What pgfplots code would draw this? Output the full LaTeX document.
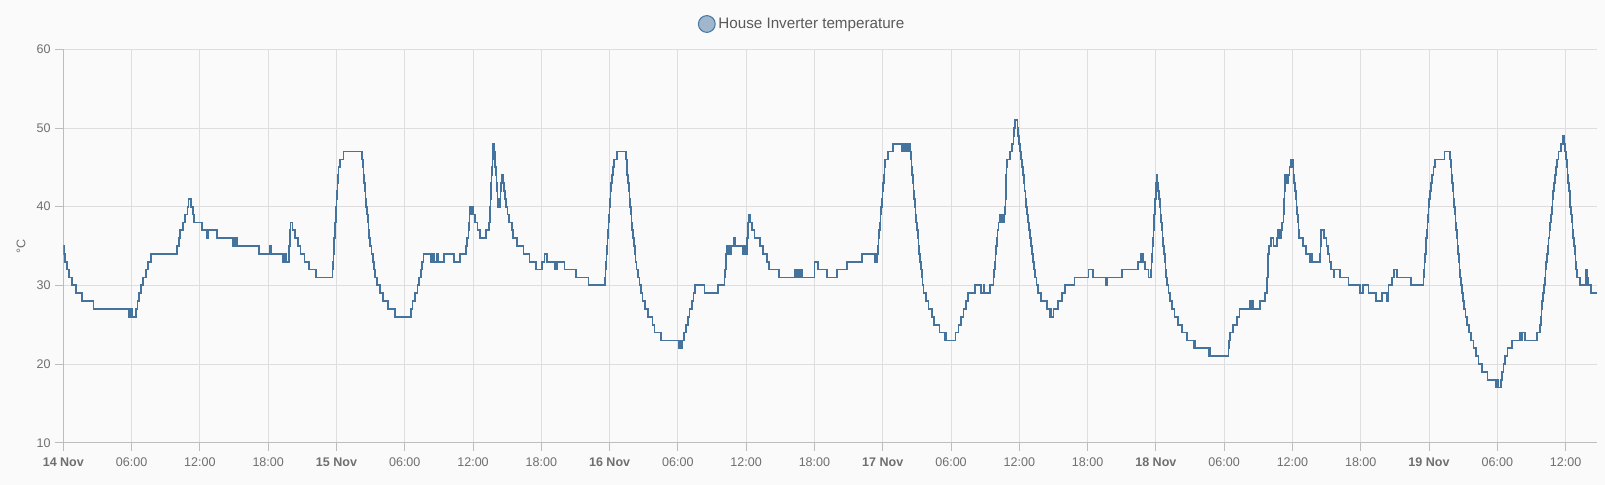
\documentclass[border=0pt]{standalone}
\usepackage{fontspec}
\setmainfont{Liberation Sans}
\usepackage{pgfplots}
\pgfplotsset{compat=1.18}

\definecolor{bgcol}{HTML}{FAFAFA}
\definecolor{gridcol}{HTML}{DEDEDE}
\definecolor{axiscol}{HTML}{BDBDBD}
\definecolor{tickcol}{HTML}{6F6F6F}
\definecolor{legcol}{HTML}{5A5A5A}
\definecolor{linecol}{HTML}{44739E}
\definecolor{legfill}{HTML}{9FB6CC}

\begin{document}
\begin{tikzpicture}
% page = 1605 x 485 px at 0.75pt per px
\fill[bgcol] (-47.5pt,-31.7pt) rectangle (1156.2pt,332pt);
\begin{axis}[
    at={(0,0)}, anchor=south west,
    scale only axis, width=1150pt, height=295pt,
    xmin=0, xmax=134.74, ymin=10, ymax=60,
    axis x line=bottom, axis y line=left,
    axis line style={-, draw=axiscol, line width=0.75pt},
    xtick={0,6,...,132},
    xticklabels={\textbf{14 Nov},06:00,12:00,18:00,\textbf{15 Nov},06:00,12:00,18:00,
                 \textbf{16 Nov},06:00,12:00,18:00,\textbf{17 Nov},06:00,12:00,18:00,
                 \textbf{18 Nov},06:00,12:00,18:00,\textbf{19 Nov},06:00,12:00},
    ytick={10,20,...,60},
    grid=major,
    major grid style={draw=gridcol, line width=0.75pt},
    tick style={draw=axiscol, line width=0.75pt},
    major tick length=6pt, tick align=outside,
    ticklabel style={font=\fontsize{9.4}{11}\selectfont, text=tickcol},
    xticklabel style={yshift=-1.5pt},
    /pgf/number format/assume math mode=true,
    ylabel={°C},
    ylabel style={at={(axis description cs:0,0.5)}, anchor=center, yshift=31.7pt,
                  font=\fontsize{9.4}{11}\selectfont, text=tickcol},
    legend style={at={(axis description cs:0.482,1)}, anchor=center, yshift=19pt,
                  draw=none, fill=none, font=\fontsize{11.4}{13}\selectfont, text=legcol},
    legend image code/.code={\draw[draw=linecol, fill=legfill, line width=0.75pt] (0.3em,0) circle (6.3pt);},
]
\addplot[const plot, color=linecol, line width=1.3pt] table {
x y
0.00 35
0.06 34
0.15 33
0.30 32
0.50 31
0.78 30
1.12 29
1.61 28
2.64 27
5.80 26
5.88 27
5.94 26
6.00 27
6.06 26
6.39 27
6.51 28
6.68 29
6.83 30
7.03 31
7.24 32
7.47 33
7.68 34
9.96 35
10.14 36
10.25 37
10.49 38
10.69 39
10.90 40
10.99 41
11.19 40
11.37 39
11.48 38
12.16 37
12.60 36
12.70 37
13.48 36
14.88 35
14.95 36
15.05 35
15.15 36
15.30 35
17.20 34
18.17 35
18.25 34
19.33 33
19.48 34
19.57 33
19.86 35
19.89 36
19.92 37
19.95 38
20.13 37
20.36 36
20.59 35
20.83 34
21.18 33
21.59 32
22.17 31
23.65 32
23.69 33
23.73 34
23.77 35
23.81 36
23.85 37
23.89 38
23.93 39
23.97 40
24.01 41
24.05 42
24.09 43
24.13 44
24.17 45
24.32 46
24.61 47
26.25 46
26.31 45
26.37 44
26.43 43
26.49 42
26.55 41
26.61 40
26.67 39
26.74 38
26.81 37
26.89 36
26.97 35
27.07 34
27.20 33
27.30 32
27.40 31
27.56 30
27.83 29
28.08 28
28.50 27
29.09 26
29.12 27
29.16 26
30.52 27
30.67 28
30.90 29
31.11 30
31.25 31
31.40 32
31.49 33
31.64 34
32.28 33
32.46 34
32.57 33
32.81 34
32.95 33
33.48 34
34.33 33
34.86 34
35.39 35
35.50 36
35.59 37
35.65 38
35.68 39
35.74 40
35.80 39
35.85 40
35.97 39
36.20 38
36.40 37
36.60 36
37.15 37
37.43 38
37.46 39
37.50 40
37.53 41
37.56 42
37.60 43
37.63 44
37.66 45
37.70 46
37.73 47
37.76 48
37.85 47
37.90 46
37.95 45
38.00 44
38.05 43
38.10 42
38.15 41
38.20 40
38.37 41
38.42 42
38.47 43
38.52 44
38.67 43
38.75 42
38.83 41
38.92 40
39.02 39
39.19 38
39.40 37
39.49 36
39.84 35
40.43 34
40.95 33
41.54 32
42.04 33
42.27 34
42.48 33
43.21 32
43.36 33
44.03 32
45.05 31
46.14 30
47.60 31
47.64 32
47.69 33
47.73 34
47.78 35
47.82 36
47.87 37
47.91 38
47.96 39
48.00 40
48.05 41
48.09 42
48.14 43
48.18 44
48.28 45
48.40 46
48.63 47
49.44 46
49.50 45
49.56 44
49.62 43
49.68 42
49.74 41
49.80 40
49.86 39
49.92 38
49.98 37
50.05 36
50.12 35
50.20 34
50.28 33
50.36 32
50.48 31
50.62 30
50.75 29
50.90 28
51.10 27
51.40 26
51.76 25
51.95 24
52.52 23
54.05 22
54.12 23
54.18 22
54.26 23
54.32 22
54.40 23
54.54 24
54.69 25
54.86 26
55.01 27
55.22 28
55.36 29
55.50 30
56.33 29
57.50 30
58.10 31
58.15 32
58.20 33
58.25 34
58.30 35
58.40 34
58.48 35
58.60 34
58.66 35
58.95 36
59.05 35
59.70 34
59.80 35
59.90 34
60.05 35
60.10 36
60.14 37
60.18 38
60.22 39
60.35 38
60.50 37
60.73 36
61.22 35
61.51 34
61.80 33
62.00 32
62.83 31
62.88 32
62.92 31
64.30 32
64.45 31
64.55 32
64.70 31
64.78 32
64.88 31
66.00 33
66.30 32
67.08 31
67.96 32
68.83 33
70.15 34
71.32 33
71.50 34
71.56 35
71.62 36
71.68 37
71.74 38
71.80 39
71.86 40
71.92 41
71.98 42
72.04 43
72.10 44
72.15 45
72.20 46
72.45 47
72.92 48
73.67 47
73.75 48
73.85 47
73.95 48
74.05 47
74.15 48
74.25 47
74.32 48
74.40 47
74.46 46
74.52 45
74.58 44
74.64 43
74.70 42
74.76 41
74.82 40
74.88 39
74.94 38
75.00 37
75.07 36
75.14 35
75.21 34
75.28 33
75.35 32
75.43 31
75.50 30
75.58 29
75.81 28
76.02 27
76.31 26
76.51 25
76.98 24
77.47 23
77.52 24
77.56 23
78.40 24
78.65 25
78.85 26
79.10 27
79.30 28
79.50 29
80.10 30
80.65 29
80.90 30
80.95 29
81.45 30
81.73 31
81.78 32
81.84 33
81.90 34
81.96 35
82.02 36
82.08 37
82.16 38
82.25 39
82.35 38
82.45 39
82.55 38
82.65 39
82.76 40
82.78 41
82.80 42
82.82 43
82.85 44
82.87 45
82.90 46
83.19 47
83.33 48
83.48 49
83.56 50
83.63 51
83.83 50
83.90 49
83.98 48
84.06 47
84.14 46
84.22 45
84.30 44
84.38 43
84.46 42
84.54 41
84.62 40
84.70 39
84.78 38
84.86 37
84.94 36
85.02 35
85.10 34
85.18 33
85.26 32
85.38 31
85.50 30
85.62 29
85.91 28
86.41 27
86.70 26
86.78 27
86.84 26
87.00 27
87.38 28
87.73 29
88.02 30
88.84 31
90.07 32
90.50 31
91.60 30
91.72 31
93.00 32
94.41 33
94.70 34
94.88 33
95.05 32
95.34 31
95.58 32
95.62 33
95.66 34
95.70 35
95.74 36
95.78 37
95.82 38
95.86 39
95.90 40
95.94 41
95.98 42
96.02 43
96.06 44
96.14 43
96.20 42
96.27 41
96.33 40
96.40 39
96.46 38
96.52 37
96.59 36
96.65 35
96.72 34
96.78 33
96.84 32
96.91 31
96.97 30
97.10 29
97.25 28
97.39 27
97.63 26
97.92 25
98.27 24
98.71 23
99.30 22
99.36 23
99.42 22
100.62 21
100.68 22
100.74 21
102.37 22
102.42 23
102.52 24
102.76 25
103.11 26
103.34 27
104.28 28
104.38 27
104.46 28
104.56 27
105.16 28
105.59 29
105.74 30
105.78 31
105.82 32
105.85 33
105.88 34
105.95 35
106.10 36
106.33 35
106.62 36
106.70 37
106.78 36
106.86 37
106.94 36
107.00 37
107.06 38
107.21 39
107.24 40
107.27 41
107.30 42
107.33 43
107.36 44
107.45 43
107.52 44
107.58 43
107.65 44
107.73 45
107.88 46
108.03 45
108.10 44
108.16 43
108.22 42
108.29 41
108.35 40
108.41 39
108.48 38
108.54 37
108.60 36
108.90 35
109.20 34
109.49 33
109.55 34
109.60 33
109.65 34
109.70 33
110.43 34
110.46 35
110.50 36
110.54 37
110.78 36
111.00 35
111.13 34
111.25 33
111.40 32
111.60 31
111.66 32
112.19 31
112.92 30
113.94 29
114.18 30
114.68 29
115.32 28
115.85 29
116.29 28
116.38 29
116.44 30
116.73 31
116.93 32
117.17 31
118.40 30
119.51 31
119.56 32
119.61 33
119.66 34
119.71 35
119.76 36
119.81 37
119.86 38
119.91 39
119.96 40
120.03 41
120.10 42
120.17 43
120.24 44
120.39 45
120.53 46
121.35 47
121.85 46
121.91 45
121.97 44
122.03 43
122.09 42
122.15 41
122.21 40
122.27 39
122.33 38
122.39 37
122.45 36
122.51 35
122.57 34
122.63 33
122.69 32
122.75 31
122.80 30
122.90 29
123.00 28
123.10 27
123.20 26
123.32 25
123.50 24
123.70 23
123.90 22
124.10 21
124.35 20
124.64 19
125.13 18
125.90 17
125.98 18
126.05 17
126.30 18
126.39 19
126.54 20
126.68 21
126.89 22
127.27 23
128.00 24
128.12 23
128.20 24
128.44 23
129.47 24
129.76 25
129.82 26
129.88 27
129.95 28
130.02 29
130.09 30
130.16 31
130.23 32
130.30 33
130.37 34
130.44 35
130.51 36
130.58 37
130.65 38
130.72 39
130.79 40
130.86 41
130.92 42
130.98 43
131.08 44
131.16 45
131.23 46
131.38 47
131.58 48
131.75 49
131.87 48
131.96 47
132.05 46
132.11 45
132.17 44
132.23 43
132.30 42
132.36 41
132.42 40
132.49 39
132.55 38
132.61 37
132.67 36
132.74 35
132.80 34
132.86 33
132.92 32
132.99 31
133.28 30
133.78 31
133.81 32
133.86 31
133.95 30
134.26 29
134.74 29
};
\addlegendentry{House Inverter temperature}
\end{axis}
\end{tikzpicture}
\end{document}
